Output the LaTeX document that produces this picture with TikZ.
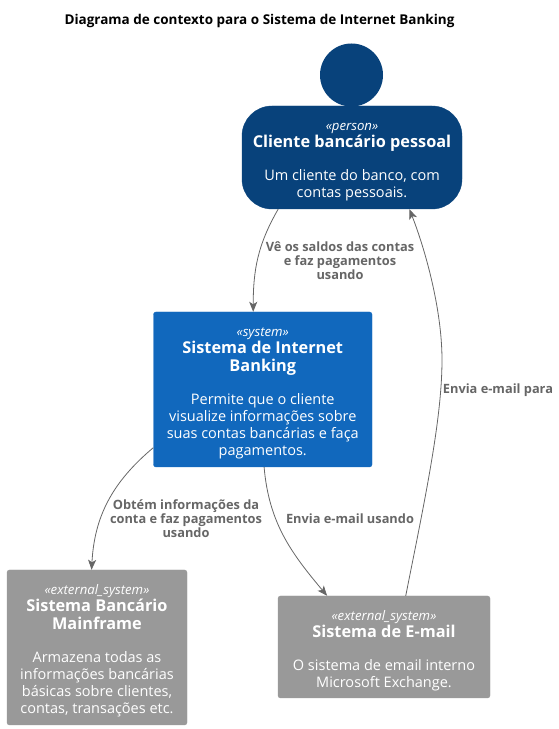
\documentclass[tikz,border=0pt]{standalone}
\usepackage{fontspec}
\setmainfont{Open Sans}
\usetikzlibrary{arrows.meta}
\definecolor{personblue}{HTML}{08427B}
\definecolor{systemblue}{HTML}{1168BD}
\definecolor{externalgrey}{HTML}{999999}
\definecolor{relgrey}{HTML}{666666}
\newcommand{\stereo}[1]{{\fontsize{13.2}{17}\selectfont\itshape\rule{0pt}{16.5pt}#1}}
\newcommand{\headline}[1]{{\fontsize{16.3}{17}\selectfont\bfseries #1}}
\tikzset{
  sysbox/.style={draw=#1,fill=#1,text=white,rounded corners=2.5pt,align=center,inner sep=0pt,font=\fontsize{14.5}{17}\selectfont},
  rel/.style={draw=relgrey,line width=0.8pt,-{Stealth[length=10pt,width=8pt,inset=2.5pt]}},
  rellabel/.style={text=relgrey,align=center,inner sep=0pt,font=\fontsize{12.8}{14}\selectfont\bfseries}
}
\begin{document}
\begin{tikzpicture}[x=1pt,y=1pt]
  \useasboundingbox (0,0) rectangle (559,729);
  \node (title) at (259.5,708.5) [font=\fontsize{13.5}{17}\selectfont\bfseries,inner sep=0pt] {Diagrama de contexto para o Sistema de Internet Banking};
  \node (head) at (351.5,654) [circle,fill=personblue,minimum size=63pt,inner sep=0pt] {};
  \node (client) at (352,571.5) [sysbox=personblue,rounded corners=30pt,minimum width=220pt,minimum height=103pt] {\stereo{«person»}\\\headline{Cliente bancário pessoal}\\[16pt]Um cliente do banco, com\\contas pessoais.};
  \node (ibank) at (262.75,339.5) [sysbox=systemblue,minimum width=218.5pt,minimum height=155pt] {\stereo{«system»}\\\headline{Sistema de Internet}\\[1.5pt]\headline{Banking}\\[16pt]Permite que o cliente\\visualize informações sobre\\suas contas bancárias e faça\\pagamentos.};
  \node (mainframe) at (97,81.5) [sysbox=externalgrey,minimum width=180pt,minimum height=155pt] {\stereo{«external\_system»}\\\headline{Sistema Bancário}\\[1.5pt]\headline{Mainframe}\\[16pt]Armazena todas as\\informações bancárias\\básicas sobre clientes,\\contas, transações etc.};
  \node (mail) at (384,82) [sysbox=externalgrey,minimum width=212pt,minimum height=102pt] {\stereo{«external\_system»}\\\headline{Sistema de E-mail}\\[16pt]O sistema de email interno\\Microsoft Exchange.};
  % relations
  \draw[rel] (client.-145.5) to[out=-120,in=90] (ibank.97.2);
  \draw[rel] (ibank.208.2) to[out=-140,in=87] (mainframe.94.4);
  \draw[rel] (ibank.-89) to[out=-85,in=130] (mail.138.7);
  \draw[rel] (mail.67.6) .. controls (425,230) and (442,310) .. (442,369) .. controls (442,420) and (425,480) .. (client.-42.6);
  % relation labels
  \node (lblview) at (340,468.5) [rellabel] {Vê os saldos das contas\\e faz pagamentos\\usando};
  \node (lblget) at (186,210) [rellabel] {Obtém informações da\\conta e faz pagamentos\\usando};
  \node (lblsend) at (350,210) [rellabel] {Envia e-mail usando};
  \node (lblmail) at (498,338.5) [rellabel] {Envia e-mail para};
\end{tikzpicture}
\end{document}
